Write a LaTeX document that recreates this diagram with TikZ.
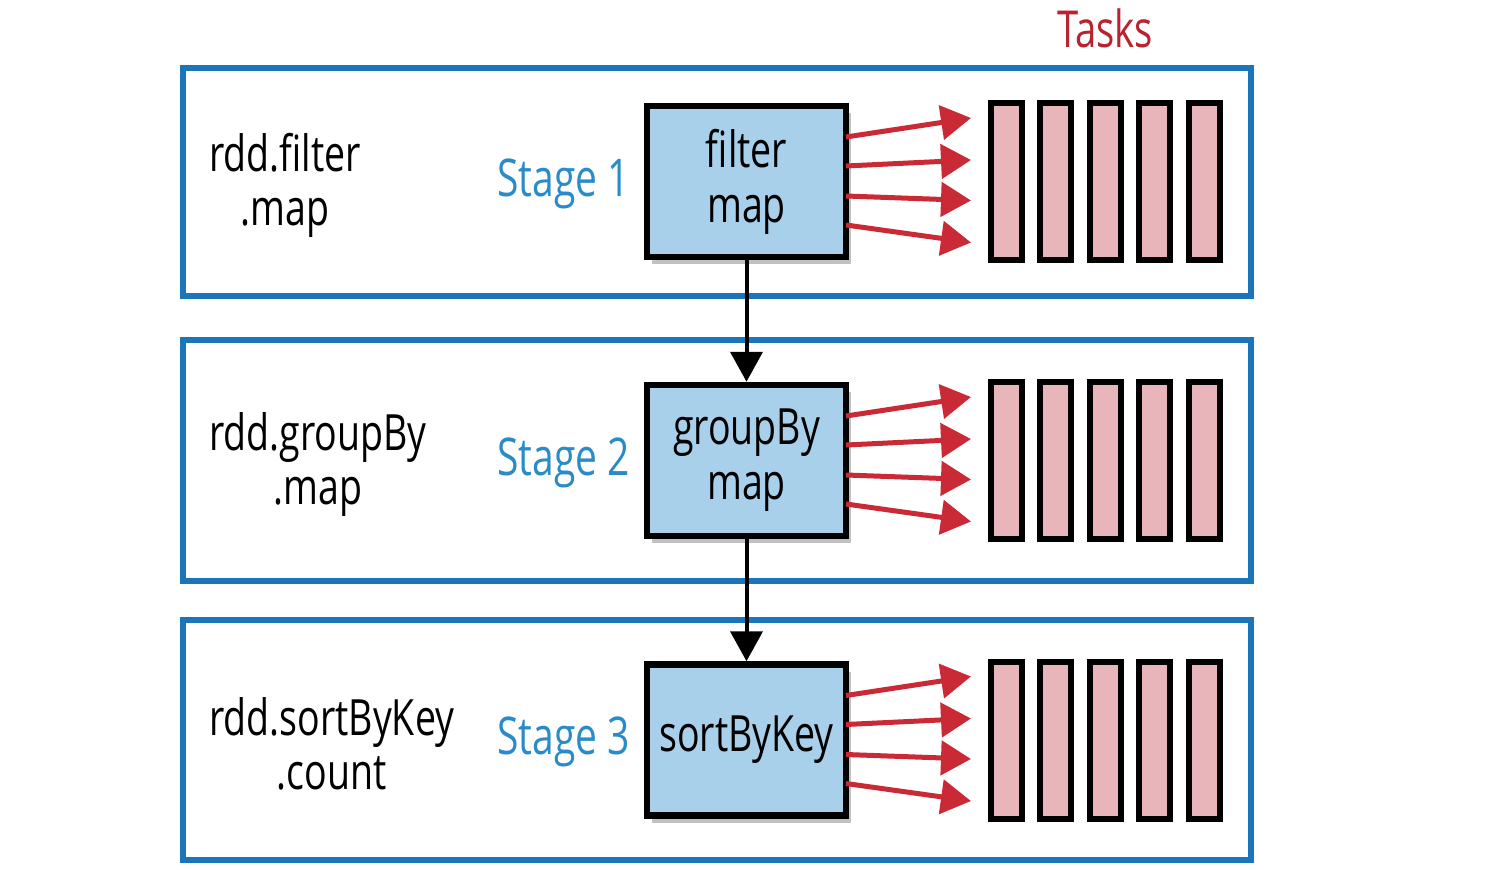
\documentclass[tikz,border=0pt]{standalone}
\usepackage{fontspec}
\setmainfont{Open Sans}[FakeStretch=0.75]
\usetikzlibrary{arrows.meta,shadows,calc}
\definecolor{frameblue}{HTML}{1B75BB}
\definecolor{stageblue}{HTML}{2A8BC9}
\definecolor{boxfill}{HTML}{A9D0EA}
\definecolor{barfill}{HTML}{E8B6BA}
\definecolor{arrred}{HTML}{C92A36}
\definecolor{taskred}{HTML}{B8232F}
\tikzset{
  stageframe/.style={draw=frameblue,line width=6pt,minimum width=1068pt,inner sep=0pt},
  opbox/.style={draw=black,line width=6.5pt,fill=boxfill,minimum width=199pt,minimum height=151pt,inner sep=0pt,align=center,
    drop shadow={shadow xshift=5pt,shadow yshift=-7pt,opacity=0.4,fill=black!60}},
  taskbar/.style={draw=black,line width=6pt,fill=barfill,minimum width=31pt,minimum height=157pt,inner sep=0pt},
  redarrow/.style={draw=arrred,line width=5pt,-{Triangle[length=30pt,width=34pt]}},
  flowarrow/.style={draw=black,line width=4pt,-{Triangle[length=30pt,width=32pt]}},
  codetext/.style={font=\fontsize{50}{54}\selectfont,align=center,anchor=west,inner sep=0pt},
  stagetext/.style={font=\fontsize{52}{55}\selectfont,text=stageblue,anchor=east,inner sep=0pt},
  boxtext/.style={font=\fontsize{50}{55}\selectfont}
}
\begin{document}
\begin{tikzpicture}[x=1pt,y=-1pt]
\useasboundingbox (0,0) rectangle (1505,870);
\fill[white] (0,0) rectangle (1505,870);
\node[font=\fontsize{51}{55}\selectfont,text=taskred,inner sep=0pt] (tasks) at (1105,28) {Tasks};
\foreach \i/\yc/\fy/\fh/\code/\op in {1/181.5/181.5/228/{rdd.filter\\.map}/{filter\\map},
                               2/460.5/460/241/{rdd.groupBy\\.map}/{groupBy\\map},
                               3/740/739.5/240/{rdd.sortByKey\\.count}/{sortByKey}}{
  \node[stageframe,minimum height=\fh pt] (frame\i) at (716.5,\fy) {};
  \node[codetext] (code\i) at (209,\yc+4) {\code};
  \node[stagetext] (stage\i) at (630,\yc+2) {Stage \i};
  \node[opbox,boxtext] (box\i) at (746.5,\yc) {\op};
  \foreach \k/\x in {1/1006,2/1055.5,3/1105,4/1154.5,5/1204.5}{
    \node[taskbar] (bar\i\k) at (\x,\yc) {};
  }
  \foreach \k/\sy/\ty in {1/-44.5/-63.5,2/-15.5/-21.5,3/14.5/19,4/43.5/61}{
    \coordinate (s\i\k) at (846,\yc+\sy);
    \coordinate (t\i\k) at (971,\yc+\ty);
    \draw[redarrow] (s\i\k) -- (t\i\k);
  }
}
\draw[flowarrow] (box1.south) -- (box2.north);
\draw[flowarrow] (box2.south) -- (box3.north);
\end{tikzpicture}
\end{document}
